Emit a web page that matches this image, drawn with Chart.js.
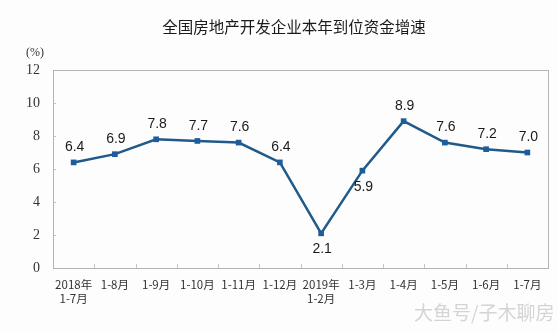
<!DOCTYPE html>
<html>
<head>
<meta charset="utf-8">
<script src="https://cdn.jsdelivr.net/npm/chart.js@4/dist/chart.umd.min.js"></script>
<style>
  html, body { margin: 0; padding: 0; background: #fdfdfd; }
  .chart-wrap { position: relative; width: 558px; height: 333px; }
</style>
</head>
<body>
<div class="chart-wrap"><canvas id="fundsChart"></canvas></div>
<script>
/* 全国房地产开发企业本年到位资金增速 — line chart */

const months = [
  ['2018年', '1-7月'], '1-8月', '1-9月', '1-10月', '1-11月', '1-12月',
  ['2019年', '1-2月'], '1-3月', '1-4月', '1-5月', '1-6月', '1-7月'
];
const growth = [6.4, 6.9, 7.8, 7.7, 7.6, 6.4, 2.1, 5.9, 8.9, 7.6, 7.2, 7.0];
const labelBelow = [false, false, false, false, false, false, true, true, false, false, false, false];
const yTicks = [0, 2, 4, 6, 8, 10, 12];

const CJK = '"Noto Sans CJK SC", "Noto Sans", sans-serif';

// title, unit, frame, inner tick marks, value labels, watermark
const decor = {
  id: 'decor',
  beforeDraw(chart) {
    const { ctx, chartArea: a, scales } = chart;
    ctx.save();
    ctx.strokeStyle = '#c4c4c4';
    ctx.lineWidth = 1;
    // x-axis ticks between categories, pointing up into the plot
    const x = scales.x;
    for (let i = 1; i < months.length; i++) {
      const px = Math.round((x.getPixelForValue(i - 1) + x.getPixelForValue(i)) / 2) + 0.5;
      ctx.beginPath();
      ctx.moveTo(px, a.bottom);
      ctx.lineTo(px, a.bottom - 4);
      ctx.stroke();
    }
    // y-axis ticks, pointing right into the plot
    const y = scales.y;
    yTicks.forEach(v => {
      const py = Math.round(y.getPixelForValue(v)) + 0.5;
      ctx.beginPath();
      ctx.moveTo(a.left, py);
      ctx.lineTo(a.left + 3, py);
      ctx.stroke();
    });
    ctx.restore();
  },
  afterDraw(chart) {
    const { ctx, chartArea: a } = chart;
    ctx.save();
    // frame
    ctx.strokeStyle = '#b4b4b4';
    ctx.lineWidth = 1;
    ctx.strokeRect(Math.round(a.left) + 0.5, Math.round(a.top) + 0.5,
      Math.round(a.right - a.left), Math.round(a.bottom - a.top));

    ctx.fillStyle = '#1a1a1a';
    ctx.textAlign = 'center';
    ctx.textBaseline = 'middle';
    ctx.font = '15.5px ' + CJK;
    ctx.fillText('全国房地产开发企业本年到位资金增速', 294, 27);

    ctx.fillStyle = '#333';
    ctx.font = '12px "Liberation Serif", serif';
    ctx.fillText('(%)', 35, 53);

    // value labels
    const meta = chart.getDatasetMeta(0);
    ctx.font = '14px "Liberation Sans", Arial, sans-serif';
    ctx.fillStyle = '#1a1a1a';
    meta.data.forEach((pt, i) => {
      const dy = labelBelow[i] ? 16 : -15;
      ctx.fillText(growth[i].toFixed(1), pt.x + 1, pt.y + dy);
    });

    // watermark
    ctx.fillStyle = 'rgba(150,150,150,0.4)';
    ctx.font = '19px ' + CJK;
    ctx.textAlign = 'left';
    ctx.fillText('大鱼号/子木聊房', 414, 313);
    ctx.restore();
  }
};

new Chart(document.getElementById('fundsChart'), {
  type: 'line',
  data: {
    labels: months,
    datasets: [{
      data: growth,
      borderColor: '#1f5a8a',
      borderWidth: 2.5,
      backgroundColor: '#1d5d9e',
      pointStyle: 'rect',
      pointRadius: 4,
      pointBorderWidth: 0,
      tension: 0,
      fill: false
    }]
  },
  options: {
    responsive: true,
    maintainAspectRatio: false,
    animation: false,
    layout: { padding: { top: 70, right: 10, left: 0, bottom: 0 } },
    plugins: { legend: { display: false }, tooltip: { enabled: false } },
    scales: {
      x: {
        offset: true,
        grid: { display: false, drawTicks: false },
        border: { display: false },
        ticks: {
          color: '#333',
          font: { family: CJK, size: 11.5 },
          padding: 10,
          maxRotation: 0,
          autoSkip: false
        },
        afterFit(s) { s.height = 65; }
      },
      y: {
        min: 0,
        max: 12,
        afterBuildTicks(s) { s.ticks = yTicks.map(v => ({ value: v })); },
        grid: { display: false, drawTicks: false },
        border: { display: false },
        ticks: {
          color: '#333',
          font: { family: '"Liberation Serif", serif', size: 14 },
          padding: 13
        },
        afterFit(s) { s.width = 53; }
      }
    }
  },
  plugins: [decor]
});
</script>
</body>
</html>
